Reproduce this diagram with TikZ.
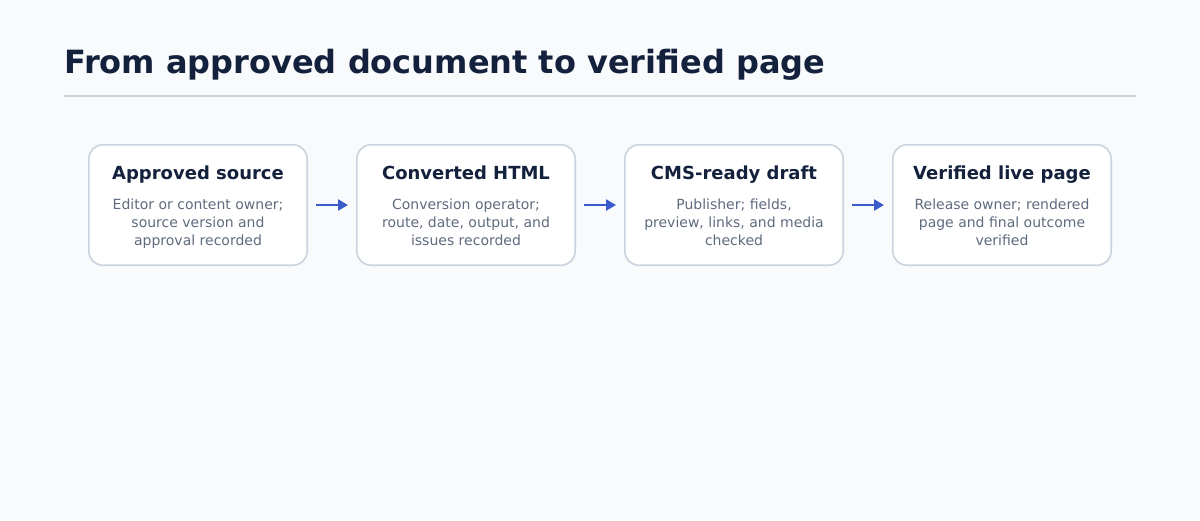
\documentclass[tikz,border=0pt]{standalone}
\usepackage{fontspec}
\setmainfont{DejaVu Sans}
\usetikzlibrary{arrows.meta}
\definecolor{bgc}{HTML}{F8FAFC}
\definecolor{ink}{HTML}{13213C}
\definecolor{sub}{HTML}{5F6B7E}
\definecolor{edge}{HTML}{CBD3DE}
\definecolor{rule}{HTML}{CDD3DC}
\definecolor{arrc}{HTML}{3B5BCC}
\tikzset{
  stage/.style={draw=edge, fill=white, line width=1.6pt, rounded corners=14pt,
    minimum width=218.4pt, minimum height=120.4pt, inner sep=0pt},
  stagetitle/.style={anchor=base, inner sep=0pt, text=ink,
    font=\fontsize{18}{22}\selectfont\bfseries},
  stagedesc/.style={anchor=base, inner sep=0pt, text=sub,
    font=\fontsize{14}{18}\selectfont},
  flow/.style={draw=arrc, line width=2.8pt, -{Triangle[length=10pt,width=11pt]},
    shorten <=8pt, shorten >=8pt},
}
\newcommand{\descbox}[1]{\parbox[t]{210pt}{\centering #1}}
\begin{document}
\begin{tikzpicture}[x=1pt,y=-1pt]
\fill[bgc] (0,0) rectangle (1200,520);
\useasboundingbox (0,0) rectangle (1200,520);
\node[anchor=base west, inner sep=0pt, text=ink, font=\fontsize{32}{38}\selectfont\bfseries] (title) at (64,73) {From approved document to verified page};
\coordinate (rl) at (64,96);
\coordinate (rr) at (1136,96);
\draw[rule, line width=2pt] (rl) -- (rr);
\foreach \i/\cx/\t/\d in {
  1/198/{Approved source}/{Editor or content owner;\\source version and\\approval recorded},
  2/466/{Converted HTML}/{Conversion operator;\\route, date, output, and\\issues recorded},
  3/734/{CMS-ready draft}/{Publisher; fields,\\preview, links, and media\\checked},
  4/1002/{Verified live page}/{Release owner; rendered\\page and final outcome\\verified}} {
  \node[stage] (b\i) at (\cx,205) {};
  \node[stagetitle] (t\i) at (\cx,179) {\t};
  \node[stagedesc] (d\i) at (\cx,209) {\descbox{\d}};
}
\draw[flow] (b1.east) -- (b2.west);
\draw[flow] (b2.east) -- (b3.west);
\draw[flow] (b3.east) -- (b4.west);
\end{tikzpicture}
\end{document}
